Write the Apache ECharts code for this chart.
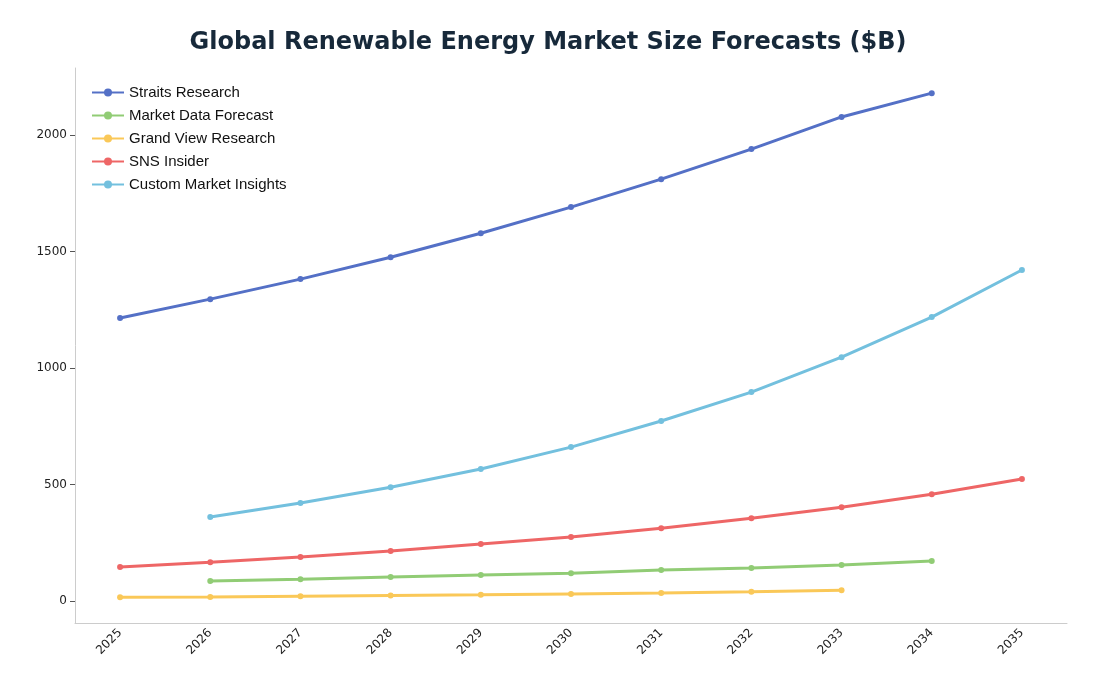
<!DOCTYPE html>
<html>
<head>
<meta charset="utf-8">
<script src="https://cdn.jsdelivr.net/npm/echarts@6/dist/echarts.min.js"></script>
</head>
<body style="margin:0">
<div id="main" style="width:1096px;height:697px;"></div>
<script type="text/javascript">
var years = ['2025','2026','2027','2028','2029','2030','2031','2032','2033','2034','2035'];
var straits = [1215,1296,1382,1476,1579,1691,1811,1940,2078,2180,null];
var marketData = [null,86,94,103,112,120,133,142,155,172,null];
var grandView = [17,18,21,24,27,31,35,40,47,null,null];
var snsInsider = [146,167,189,215,245,275,313,356,403,459,524];
var customMarket = [null,361,421,489,567,661,773,897,1047,1219,1421];
var yTicks = [0,500,1000,1500,2000];

var myChart = echarts.init(document.getElementById('main'));

function line(name, data, color) {
    return {
        name: name, type: 'line', data: data, symbol: 'circle', symbolSize: 6,
        itemStyle: {color: color}, lineStyle: {color: color, width: 3}
    };
}

var option = {
    backgroundColor: '#fff',
    title: {
        text: 'Global Renewable Energy Market Size Forecasts ($B)',
        left: 'center', top: 26,
        textStyle: {fontFamily: 'DejaVu Sans', fontSize: 24, fontWeight: 'bold', color: '#17293a'}
    },
    legend: {
        orient: 'vertical', left: 86, top: 80, itemGap: 8,
        itemWidth: 32, itemHeight: 10,
        textStyle: {fontFamily: 'Liberation Sans', fontSize: 15, color: '#111'},
        data: ['Straits Research','Market Data Forecast','Grand View Research','SNS Insider','Custom Market Insights']
    },
    grid: {left: 75, right: 29, top: 68, bottom: 74},
    xAxis: {
        type: 'category', data: years, boundaryGap: true,
        axisLine: {onZero: false, lineStyle: {color: '#ccc'}},
        axisTick: {alignWithLabel: true, lineStyle: {color: '#555'}},
        axisLabel: {rotate: 45, color: '#222', fontFamily: 'DejaVu Sans', fontSize: 12}
    },
    yAxis: {
        type: 'value', min: -94, max: 2288,
        splitLine: {show: false},
        axisLine: {show: true, lineStyle: {color: '#ccc'}},
        axisTick: {show: true, customValues: yTicks, lineStyle: {color: '#555'}},
        axisLabel: {customValues: yTicks, formatter: function (v) { return String(v); },
            color: '#222', fontFamily: 'DejaVu Sans', fontSize: 12}
    },
    series: [
        line('Straits Research', straits, '#5470c6'),
        line('Market Data Forecast', marketData, '#91cc75'),
        line('Grand View Research', grandView, '#fac858'),
        line('SNS Insider', snsInsider, '#ee6666'),
        line('Custom Market Insights', customMarket, '#73c0de')
    ]
};
myChart.setOption(option);
</script>
</body>
</html>
